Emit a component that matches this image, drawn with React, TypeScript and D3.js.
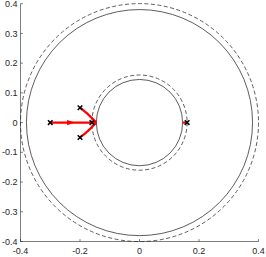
import React from "react";
import * as d3 from "d3";

const xTicks = [-0.4, -0.2, 0, 0.2, 0.4];
const yTicks = [0.4, 0.3, 0.2, 0.1, 0, -0.1, -0.2, -0.3, -0.4];

// circles: radius, dashed?
const circles = [
  { r: 0.38, dashed: false },
  { r: 0.4, dashed: true },
  { r: 0.145, dashed: false },
  { r: 0.16, dashed: true },
];

const path1: [number, number][] = [[-0.3, 0], [-0.145, 0]];
const path2: [number, number][] = [[-0.2, 0.05], [-0.172, 0.027], [-0.145, 0]];
const path3: [number, number][] = [[-0.2, -0.05], [-0.172, -0.027], [-0.145, 0]];
const path4: [number, number][] = [[0.145, 0], [0.16, 0]];

const markers: [number, number][] = [
  [-0.3, 0],
  [-0.2, 0.05],
  [-0.2, -0.05],
  [-0.16, 0],
  [0.16, 0],
];

export default function App() {
  const width = 266;
  const height = 257;
  const margin = { top: 3.7, right: 7.5, bottom: 15.5, left: 20.5 };

  const x = d3.scaleLinear().domain([-0.4, 0.4]).range([margin.left, width - margin.right]);
  const y = d3.scaleLinear().domain([-0.4, 0.4]).range([height - margin.bottom, margin.top]);
  const k = (x(1) - x(0));

  const ln = d3
    .line<[number, number]>()
    .x((d) => x(d[0]))
    .y((d) => y(d[1]))
    .curve(d3.curveCatmullRom);

  const axisColor = "#262626";
  const x0 = margin.left;
  const y0 = height - margin.bottom;
  const ms = 2.3;
  const fmt = (t: number) => String(Math.round(t * 10) / 10);

  // arrow head in the middle of first path
  const ax = x(-0.23);
  const ay = y(0);

  return (
    <svg width={width} height={height} style={{ position: "absolute", left: 0, top: 0 }}>
      <rect width={width} height={height} fill="#fff" />
      {circles.map((c, i) => (
        <circle
          key={i}
          cx={x(0)}
          cy={y(0)}
          r={c.r * k}
          fill="none"
          stroke="#333"
          strokeWidth={0.8}
          strokeDasharray={c.dashed ? "4,2.5" : undefined}
        />
      ))}
      {[path1, path2, path3, path4].map((p, i) => (
        <path key={i} d={ln(p) || ""} fill="none" stroke="#ff0000" strokeWidth={2.2} />
      ))}
      <path d={`M${ax - 4},${ay - 2.6}L${ax + 4},${ay}L${ax - 4},${ay + 2.6}Z`} fill="#ff0000" />
      {markers.map((m, i) => (
        <g key={i} stroke="#000" strokeWidth={1.5}>
          <line x1={x(m[0]) - ms} y1={y(m[1]) - ms} x2={x(m[0]) + ms} y2={y(m[1]) + ms} />
          <line x1={x(m[0]) - ms} y1={y(m[1]) + ms} x2={x(m[0]) + ms} y2={y(m[1]) - ms} />
        </g>
      ))}
      {/* axes */}
      <line x1={x0} y1={margin.top} x2={x0} y2={y0} stroke={axisColor} strokeWidth={0.6} />
      <line x1={x0} y1={y0} x2={width - margin.right} y2={y0} stroke={axisColor} strokeWidth={0.6} />
      {yTicks.map((t) => (
        <g key={"y" + t}>
          <line x1={x0} x2={x0 + 2.4} y1={y(t)} y2={y(t)} stroke={axisColor} strokeWidth={0.6} />
          <text
            x={x0 - 3}
            y={y(t)}
            dy="0.35em"
            textAnchor="end"
            fontSize={9}
            fontFamily="Liberation Sans, Arial, sans-serif"
            fill={axisColor}
          >
            {fmt(t)}
          </text>
        </g>
      ))}
      {xTicks.map((t) => (
        <g key={"x" + t}>
          <line x1={x(t)} x2={x(t)} y1={y0} y2={y0 - 2.4} stroke={axisColor} strokeWidth={0.6} />
          <text
            x={x(t)}
            y={y0 + 12}
            textAnchor="middle"
            fontSize={9}
            fontFamily="Liberation Sans, Arial, sans-serif"
            fill={axisColor}
          >
            {fmt(t)}
          </text>
        </g>
      ))}
    </svg>
  );
}
